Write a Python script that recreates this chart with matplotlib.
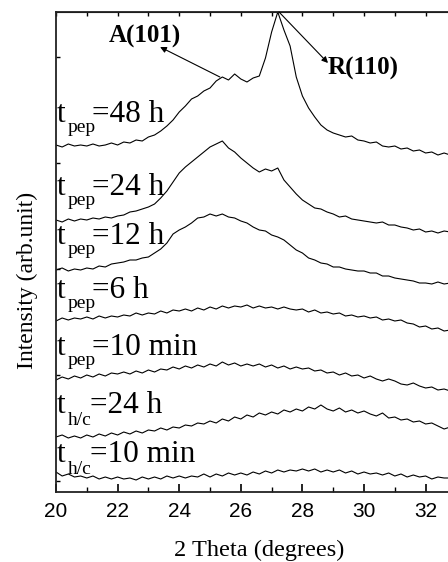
import numpy as np
import matplotlib
matplotlib.use("Agg")
import matplotlib.pyplot as plt

# 2-theta grid (degrees)
two_theta = np.round(np.arange(20.0, 32.81, 0.2), 2)

# Stacked intensities (arb. units, offsets included)
pep_48h = [347, 345, 348, 346, 347, 346, 348, 346, 347, 349, 347, 350, 349, 352, 351,
           355, 357, 361, 366, 372, 380, 386, 393, 396, 401, 404, 411, 415, 412, 418,
           413, 410, 414, 416, 434, 460, 480, 462, 446, 415, 396, 384, 375, 367, 362,
           359, 357, 355, 356, 352, 351, 349, 350, 346, 345, 346, 343, 344, 341, 342,
           339, 340, 337, 339, 337]
pep_24h = [272, 270, 273, 271, 273, 272, 274, 273, 275, 274, 276, 277, 280, 281, 283,
           285, 288, 294, 301, 310, 319, 325, 330, 335, 340, 345, 348, 351, 344, 340,
           334, 329, 324, 320, 323, 321, 324, 312, 305, 298, 292, 288, 284, 283, 280,
           278, 275, 276, 273, 272, 271, 270, 269, 270, 267, 267, 265, 264, 262, 263,
           260, 261, 259, 261, 260]
pep_12h = [222, 224, 221, 223, 222, 224, 223, 226, 225, 228, 229, 230, 232, 232, 234,
           235, 239, 243, 249, 258, 262, 265, 269, 274, 275, 278, 276, 278, 275, 274,
           271, 269, 265, 262, 261, 257, 255, 252, 247, 242, 239, 234, 232, 229, 228,
           225, 225, 223, 222, 221, 221, 219, 219, 216, 216, 214, 213, 212, 211, 209,
           209, 208, 210, 208, 209]
pep_6h = [171, 174, 172, 174, 173, 175, 173, 176, 174, 176, 175, 177, 176, 179, 177,
          179, 178, 181, 179, 182, 181, 183, 181, 184, 182, 185, 183, 186, 184, 186,
          185, 187, 184, 186, 184, 185, 183, 185, 183, 182, 183, 180, 182, 179, 180,
          178, 179, 176, 177, 175, 176, 174, 175, 172, 173, 171, 172, 169, 168, 165,
          166, 163, 164, 161, 162]
pep_10min = [112, 115, 113, 116, 114, 117, 115, 118, 116, 119, 118, 120, 118, 121, 119,
             122, 120, 123, 122, 125, 123, 126, 124, 127, 125, 128, 126, 130, 127, 129,
             126, 128, 126, 128, 125, 127, 124, 126, 123, 125, 123, 124, 121, 122, 119,
             120, 117, 119, 116, 117, 114, 116, 113, 111, 113, 111, 108, 107, 109, 106,
             104, 105, 102, 103, 101]
hc_24h = [55, 57, 54, 56, 54, 57, 55, 58, 56, 59, 57, 60, 58, 61, 59,
          62, 61, 64, 62, 65, 64, 67, 66, 69, 68, 71, 69, 73, 71, 75,
          73, 77, 75, 79, 77, 80, 78, 82, 80, 83, 81, 85, 83, 87, 83,
          81, 84, 80, 82, 79, 81, 78, 76, 79, 74, 75, 72, 73, 70, 71,
          68, 69, 66, 63, 65]
hc_10min = [20, 16, 18, 15, 16, 14, 16, 13, 15, 13, 15, 13, 14, 12, 15,
            13, 15, 13, 16, 14, 16, 14, 16, 15, 18, 15, 18, 16, 19, 17,
            19, 17, 20, 18, 21, 19, 22, 20, 22, 21, 23, 21, 23, 20, 22,
            20, 22, 19, 21, 18, 20, 18, 19, 17, 19, 16, 18, 15, 17, 15,
            16, 13, 15, 14, 14]

series = [pep_48h, pep_24h, pep_12h, pep_6h, pep_10min, hc_24h, hc_10min]

# curve labels: (subscript, value text)
label_subs = ["pep", "pep", "pep", "pep", "pep", "h/c", "h/c"]
label_vals = ["=48 h", "=24 h", "=12 h", "=6 h", "=10 min", "=24 h", "=10 min"]
xticks_major = [20, 22, 24, 26, 28, 30, 32]
xticks_minor = [21, 23, 25, 27, 29, 31, 33]
yticks_left = [435, 329, 223, 117, 11]

W, H = 448, 562
fig = plt.figure(figsize=(W / 100, H / 100), dpi=100)
ax = fig.add_axes([56 / W, 70 / H, (462.6 - 56) / W, 480 / H])

for s in series:
    ax.plot(two_theta, s, color="black", lw=0.8)

ax.set_xlim(20, 33.2)
ax.set_ylim(0, 480)
ax.spines["right"].set_visible(False)
for sp in ["left", "bottom", "top"]:
    ax.spines[sp].set_linewidth(1.3)
    ax.spines[sp].set_color("#222222")

ax.set_xticks(xticks_major)
ax.set_xticks(xticks_minor, minor=True)
ax.tick_params(axis="x", which="major", direction="in", length=6, width=1.2,
               labelsize=15, pad=7, top=False)
ax.tick_params(axis="x", which="minor", direction="in", length=3.5, width=1.0, top=False)
for lab in ax.get_xticklabels():
    lab.set_fontfamily("Liberation Sans")
ax.set_yticks(yticks_left)
ax.set_yticklabels([])
ax.tick_params(axis="y", direction="in", length=3, width=1.0)

top = ax.secondary_xaxis("top")
top.set_xticks(list(range(20, 34)))
top.set_xticklabels([])
top.tick_params(direction="in", length=3, width=1.0)

ax.set_xlabel("2 Theta (degrees)", fontfamily="Liberation Serif", fontsize=17.5, labelpad=14)
ax.set_ylabel("Intensity (arb.unit)", fontfamily="Liberation Serif", fontsize=17)
ax.yaxis.set_label_coords(-0.045, 0.44)


def fx(px):
    return px / W


def fy(py):
    return (H - py) / H


baselines = [122, 195, 244, 298, 355, 413, 462]
for sub, val, b in zip(label_subs, label_vals, baselines):
    fig.text(fx(56.5), fy(b), "t", fontfamily="Liberation Serif", fontsize=22.5,
             va="baseline", ha="left")
    if sub == "pep":
        fig.text(fx(67.5), fy(b + 10), sub, fontfamily="Liberation Serif", fontsize=14,
                 va="baseline", ha="left")
        fig.text(fx(92), fy(b), val, fontfamily="Liberation Serif", fontsize=22.5,
                 va="baseline", ha="left")
    else:
        fig.text(fx(67.5), fy(b + 12), sub, fontfamily="Liberation Serif", fontsize=14,
                 va="baseline", ha="left")
        fig.text(fx(90), fy(b), val, fontfamily="Liberation Serif", fontsize=22.5,
                 va="baseline", ha="left")

arrow = dict(arrowstyle="-|>", lw=0.8, color="black", mutation_scale=9,
             shrinkA=0, shrinkB=0)
ax.annotate("", xy=(23.38, 445), xytext=(25.32, 415), arrowprops=arrow)
ax.annotate("", xy=(28.83, 429), xytext=(27.24, 480), arrowprops=arrow)
ax.text(22.9, 449, "A(101)", fontfamily="Liberation Serif", fontweight="bold",
        fontsize=18, ha="center", va="baseline")
ax.text(29.97, 417, "R(110)", fontfamily="Liberation Serif", fontweight="bold",
        fontsize=18, ha="center", va="baseline")

fig.savefig("out.png", dpi=100)
